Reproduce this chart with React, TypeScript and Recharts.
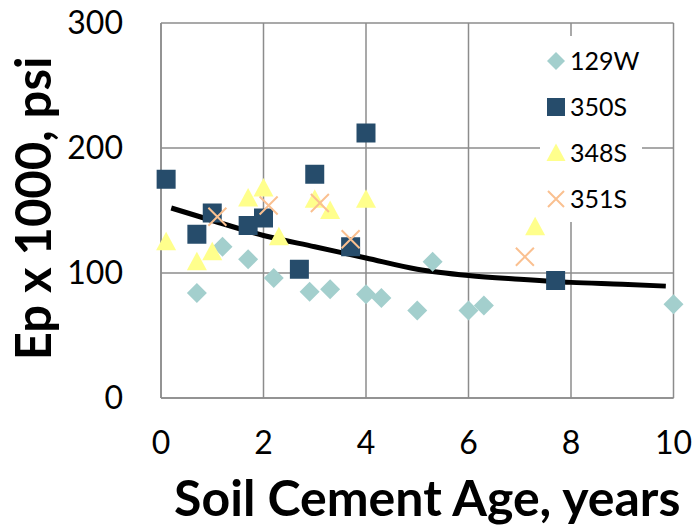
import React from 'react';
import { ComposedChart, Scatter, Line, XAxis, YAxis, CartesianGrid, Legend, Label } from 'recharts';

const xTicks = [0, 2, 4, 6, 8, 10];
const yTicks = [0, 100, 200, 300];

const age129W = [0.7, 1.2, 1.7, 2.2, 2.9, 3.3, 4.0, 4.3, 5.0, 5.3, 6.0, 6.3, 10.0];
const ep129W = [84, 121, 111, 96, 85, 87, 83, 80, 70, 109, 70, 74, 75];

const age350S = [0.1, 0.7, 1.0, 1.7, 2.0, 2.7, 3.0, 3.7, 4.0, 7.7];
const ep350S = [175, 131, 148, 138, 144, 103, 179, 121, 212, 94];

const age348S = [0.1, 0.7, 1.0, 1.7, 2.0, 2.3, 3.0, 3.3, 4.0, 7.3];
const ep348S = [125, 109, 117, 160, 168, 129, 159, 150, 159, 137];

const age351S = [1.1, 2.1, 3.1, 3.7, 7.1];
const ep351S = [145, 154, 156, 127, 113];

const trendAge = [0.2, 1, 2, 3, 4, 5, 6, 7, 8, 9, 9.85];
const trendEp = [152, 142, 130, 121, 112, 103, 98, 95, 92.5, 91, 89.5];

const toPts = (xs: number[], ys: number[]) => xs.map((x, i) => ({ x, y: ys[i] }));

const FONT = "Lato, 'Open Sans', sans-serif";
const C129 = '#A3CFCD';
const C350 = '#264C6B';
const C348 = '#FFFF8C';
const C351 = '#FAC090';

const diamondPath = (cx: number, cy: number, r: number) =>
  `M${cx},${cy - r}L${cx + r},${cy}L${cx},${cy + r}L${cx - r},${cy}Z`;
const squarePath = (cx: number, cy: number, r: number) =>
  `M${cx - r},${cy - r}H${cx + r}V${cy + r}H${cx - r}Z`;
const trianglePath = (cx: number, cy: number, r: number) =>
  `M${cx},${cy - r}L${cx + r},${cy + r * 0.85}L${cx - r},${cy + r * 0.85}Z`;
const xPath = (cx: number, cy: number, r: number) =>
  `M${cx - r},${cy - r}L${cx + r},${cy + r}M${cx + r},${cy - r}L${cx - r},${cy + r}`;

const DiamondShape = (p: any) => <path d={diamondPath(p.cx, p.cy, 10)} fill={C129} />;
const SquareShape = (p: any) => <path d={squarePath(p.cx, p.cy, 9.5)} fill={C350} />;
const TriangleShape = (p: any) => <path d={trianglePath(p.cx, p.cy, 10)} fill={C348} />;
const XShape = (p: any) => <path d={xPath(p.cx, p.cy, 9)} stroke={C351} strokeWidth={2} fill="none" />;

const legendItems = [
  { name: '129W', icon: (c: number) => <path d={diamondPath(c, c, 9)} fill={C129} /> },
  { name: '350S', icon: (c: number) => <path d={squarePath(c, c, 9)} fill={C350} /> },
  { name: '348S', icon: (c: number) => <path d={trianglePath(c, c, 9.5)} fill={C348} /> },
  { name: '351S', icon: (c: number) => <path d={xPath(c, c, 8)} stroke={C351} strokeWidth={2} fill="none" /> },
];

const LegendBox = () => (
  <div style={{ position: 'relative', width: 102, height: 186 }}>
    {legendItems.map((it, i) => {
      const cy = 24.7 + i * 46;
      return (
        <div key={it.name}>
          <svg width={22} height={22} style={{ position: 'absolute', left: 5, top: cy - 11 }}>
            {it.icon(11)}
          </svg>
          <span
            style={{
              position: 'absolute',
              left: 30,
              top: cy - 13.2,
              fontFamily: FONT,
              fontSize: 25,
              lineHeight: '25px',
              color: '#000',
              whiteSpace: 'nowrap',
            }}
          >
            {it.name}
          </span>
        </div>
      );
    })}
  </div>
);

const YTitle = (props: any) => {
  const vb = props.viewBox || { x: 0, y: 23, width: 161, height: 375 };
  const x = vb.x + 51;
  const y = vb.y + vb.height / 2 - 2;
  return (
    <text
      x={x}
      y={y}
      transform={`rotate(-90, ${x}, ${y})`}
      textAnchor="middle"
      fontFamily={FONT}
      fontWeight="bold"
      fontSize={49}
      fill="#000"
    >
      Ep x 1000, psi
    </text>
  );
};

const XTitle = (props: any) => {
  const vb = props.viewBox || { x: 161, y: 398, width: 512.5, height: 132 };
  const x = vb.x + vb.width / 2 + 10;
  const y = vb.y + 118;
  return (
    <text x={x} y={y} textAnchor="middle" fontFamily={FONT} fontWeight="bold" fontSize={50} fill="#000">
      Soil Cement Age, years
    </text>
  );
};

export default function App() {
  return (
    <div style={{ position: 'absolute', left: 0, top: 0, width: 697, height: 530, background: '#fff' }}>
      <ComposedChart width={697} height={530} margin={{ top: 23, right: 23.5, left: 0, bottom: 0 }}>
        <CartesianGrid stroke="#8c8c8c" strokeWidth={1.5} />
        <XAxis
          type="number"
          dataKey="x"
          domain={[0, 10]}
          ticks={xTicks}
          interval={0}
          height={132}
          tickLine={false}
          tickSize={6}
          tickMargin={27}
          axisLine={{ stroke: '#8c8c8c', strokeWidth: 1.5 }}
          tick={{ fill: '#000', fontSize: 32, fontFamily: FONT }}
        >
          <Label content={XTitle} />
        </XAxis>
        <YAxis
          type="number"
          dataKey="y"
          domain={[0, 300]}
          ticks={yTicks}
          interval={0}
          width={161}
          tickLine={false}
          tickSize={6}
          tickMargin={32}
          axisLine={{ stroke: '#8c8c8c', strokeWidth: 1.5 }}
          tick={{ fill: '#000', fontSize: 32, fontFamily: FONT }}
        >
          <Label content={YTitle} />
        </YAxis>
        <Scatter name="129W" data={toPts(age129W, ep129W)} shape={DiamondShape} isAnimationActive={false} />
        <Scatter name="350S" data={toPts(age350S, ep350S)} shape={SquareShape} isAnimationActive={false} />
        <Scatter name="348S" data={toPts(age348S, ep348S)} shape={TriangleShape} isAnimationActive={false} />
        <Scatter name="351S" data={toPts(age351S, ep351S)} shape={XShape} isAnimationActive={false} />
        <Line
          data={toPts(trendAge, trendEp)}
          dataKey="y"
          type="monotone"
          stroke="#000"
          strokeWidth={5}
          dot={false}
          activeDot={false}
          legendType="none"
          isAnimationActive={false}
        />
        <Legend
          layout="vertical"
          align="center"
          verticalAlign="middle"
          wrapperStyle={{ position: 'absolute', left: 540, top: 36, width: 102, height: 186, background: '#fff' }}
          content={() => <LegendBox />}
        />
      </ComposedChart>
    </div>
  );
}
